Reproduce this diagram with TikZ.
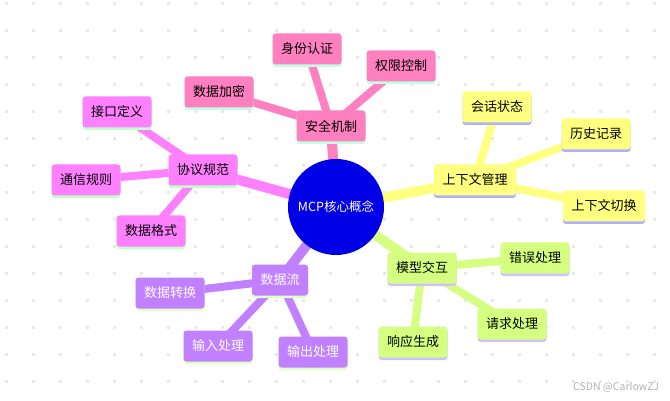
\documentclass[tikz,border=0pt]{standalone}
\usepackage{fontspec}
\setmainfont{Noto Sans CJK SC}
\usetikzlibrary{shadows}
\definecolor{cpink}{HTML}{FF80C0}
\definecolor{cmag}{HTML}{FF80FF}
\definecolor{cyel}{HTML}{FFFF80}
\definecolor{cgrn}{HTML}{D4FF80}
\definecolor{cpur}{HTML}{C080FF}
\definecolor{cblue}{HTML}{0000E6}
\definecolor{smint}{HTML}{C0FFE0}
\definecolor{sgreen}{HTML}{C0FFC8}
\definecolor{slav}{HTML}{B0B0FF}
\definecolor{slav2}{HTML}{D0C0FF}
\definecolor{sgreen2}{HTML}{E0FFC8}
\definecolor{dotc}{HTML}{E8E8E8}
\pgfdeclarelayer{back}
\pgfdeclarelayer{bg}
\pgfsetlayers{back,bg,main}
\tikzset{
  topic/.style={rounded corners=3pt, minimum height=31pt, inner xsep=8.5pt, inner ysep=0pt,
    font=\fontsize{13}{13}\selectfont, text=black},
  mbox/.style 2 args={topic, fill=#1,
    general shadow={fill=#2, shadow xshift=0pt, shadow yshift=-2.5pt}},
  mainline/.style={line width=10pt, draw=#1},
  subline/.style={line width=8pt, draw=#1},
}
\begin{document}
\begin{tikzpicture}[x=1pt,y=-1pt]
\useasboundingbox (0,0) rectangle (670,401);
\begin{pgfonlayer}{back}
\fill[white] (0,0) rectangle (670,401);
\foreach \i in {0,...,24}{
  \foreach \j in {0,...,14}{
    \fill[dotc] ({6.5+27*\i-1.2},{3.5+27*\j-1.2}) rectangle ++(2.4,2.4);
  }
}
\end{pgfonlayer}
% center
\node[circle, fill=cblue, minimum size=96pt, inner sep=0pt, text=white,
  font=\fontsize{12.5}{12.5}\selectfont] (c) at (336,207) {MCP核心概念};
% security
\node[mbox={cpink}{smint}] (sec) at (331,126) {安全机制};
\node[mbox={cpink}{smint}] (sec1) at (307,49) {身份认证};
\node[mbox={cpink}{smint}] (sec2) at (401,66) {权限控制};
\node[mbox={cpink}{smint}] (sec3) at (219,92) {数据加密};
% protocol
\node[mbox={cmag}{sgreen}] (pro) at (203,170) {协议规范};
\node[mbox={cmag}{sgreen}] (pro1) at (117,112) {接口定义};
\node[mbox={cmag}{sgreen}] (pro2) at (86,180) {通信规则};
\node[mbox={cmag}{sgreen}] (pro3) at (151,231) {数据格式};
% context
\node[mbox={cyel}{slav}] (ctx) at (475,180) {上下文管理};
\node[mbox={cyel}{slav}] (ctx1) at (497,107) {会话状态};
\node[mbox={cyel}{slav}] (ctx2) at (596,134) {历史记录};
\node[mbox={cyel}{slav}] (ctx3) at (604,206) {上下文切换};
% model
\node[mbox={cgrn}{slav2}] (mod) at (422,268) {模型交互};
\node[mbox={cgrn}{slav2}] (mod1) at (535,258) {错误处理};
\node[mbox={cgrn}{slav2}] (mod2) at (512,324) {请求处理};
\node[mbox={cgrn}{slav2}] (mod3) at (413,342) {响应生成};
% data flow
\node[mbox={cpur}{sgreen2}, text=white] (df) at (280,280) {数据流};
\node[mbox={cpur}{sgreen2}, text=white] (df1) at (170,293) {数据转换};
\node[mbox={cpur}{sgreen2}, text=white] (df2) at (218,346) {输入处理};
\node[mbox={cpur}{sgreen2}, text=white] (df3) at (313,352) {输出处理};
% watermark
\node[text=black!30, font=\fontsize{10.5}{10.5}\selectfont, inner sep=0pt] (wm) at (616,387) {CSDN @CarlowZJ};
\begin{pgfonlayer}{bg}
  \draw[mainline=cpink] (c.center) -- (sec.center);
  \draw[mainline=cmag] (c.center) -- (pro.center);
  \draw[mainline=cyel] (c.center) -- (ctx.center);
  \draw[mainline=cgrn] (c.center) -- (mod.center);
  \draw[mainline=cpur] (c.center) -- (df.center);
  \foreach \k in {1,2,3}{
    \draw[subline=cpink] (sec.center) -- (sec\k.center);
    \draw[subline=cmag] (pro.center) -- (pro\k.center);
    \draw[subline=cyel] (ctx.center) -- (ctx\k.center);
    \draw[subline=cgrn] (mod.center) -- (mod\k.center);
    \draw[subline=cpur] (df.center) -- (df\k.center);
  }
\end{pgfonlayer}
\end{tikzpicture}
\end{document}
